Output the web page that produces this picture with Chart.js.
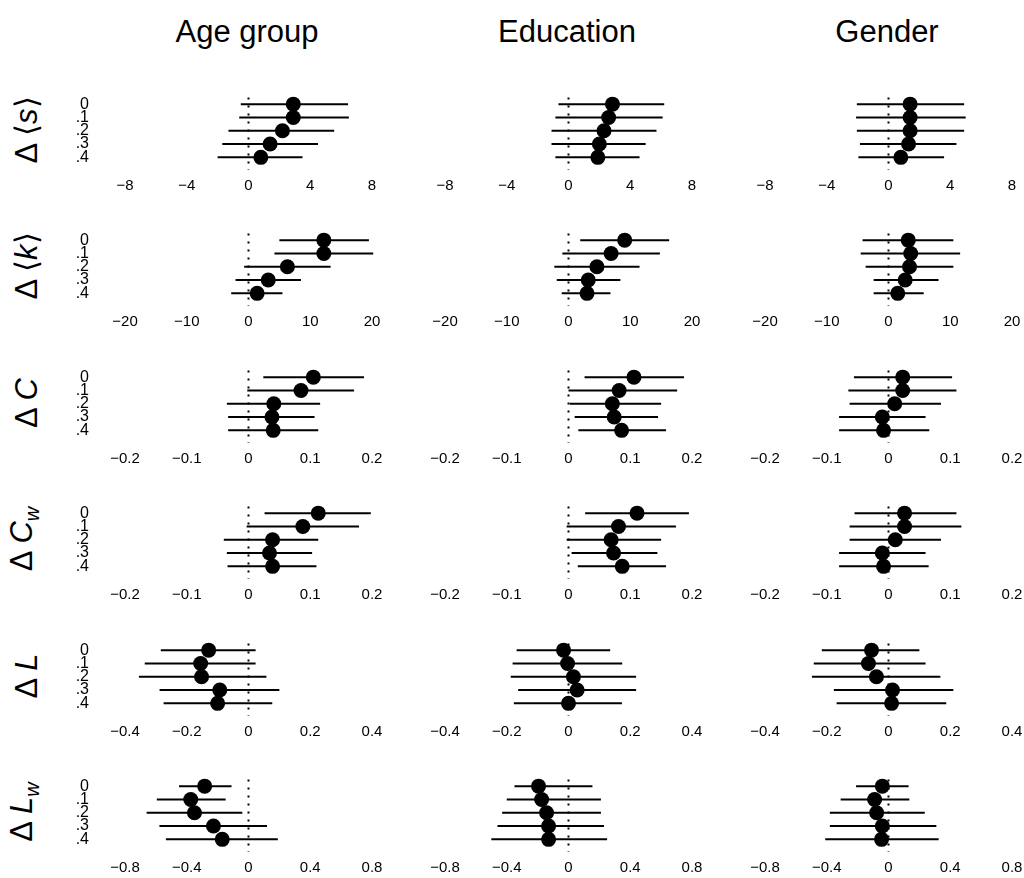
<!DOCTYPE html>
<html>
<head>
<meta charset="utf-8">
<script src="https://cdn.jsdelivr.net/npm/chart.js@4.4.1/dist/chart.umd.min.js"></script>
<style>
  body { margin: 0; background: #fff; width: 1024px; height: 878px; position: relative; overflow: hidden;
         font-family: "Liberation Sans", Arial, sans-serif; color: #000; }
  .col-title { position: absolute; top: 14px; width: 320px; text-align: center; font-size: 31px; line-height: 36px; }
  .row-title { position: absolute; left: 27px; font-size: 31px; line-height: 34px; white-space: nowrap;
               transform: translate(-50%, -50%) rotate(-90deg); }
  .row-title sub { font-size: 20px; font-style: italic; }
  .panel { position: absolute; }
</style>
</head>
<body>
<script>
  const lagLabels = ["0", ".1", ".2", ".3", ".4"];
  const groupNames = ["Age group", "Education", "Gender"];
  const rowNames = [
    "\u0394 \u27e8<i>s</i>\u27e9",
    "\u0394 \u27e8<i>k</i>\u27e9",
    "\u0394 <i>C</i>",
    "\u0394 <i>C</i><sub>w</sub>",
    "\u0394 <i>L</i>",
    "\u0394 <i>L</i><sub>w</sub>"
  ];

  // each row: [age group, education, gender], five lags per panel
  const sTicks = [-8, -4, 0, 4, 8];
  const sEst = [[2.9, 2.9, 2.2, 1.4, 0.8], [2.85, 2.6, 2.3, 2.0, 1.9], [1.4, 1.4, 1.4, 1.3, 0.8]];
  const sLo = [[-0.5, -0.6, -1.3, -1.7, -2.0], [-0.65, -0.85, -1.1, -1.1, -0.85], [-2.05, -2.1, -2.05, -1.85, -1.95]];
  const sHi = [[6.45, 6.5, 5.55, 4.5, 3.5], [6.2, 6.1, 5.7, 5.0, 4.6], [4.9, 5.0, 4.9, 4.4, 3.6]];

  const kTicks = [-20, -10, 0, 10, 20];
  const kEst = [[12.2, 12.2, 6.3, 3.2, 1.4], [9.1, 6.9, 4.6, 3.2, 3.0], [3.2, 3.6, 3.4, 2.7, 1.5]];
  const kLo = [[5.0, 4.2, -0.7, -2.1, -2.8], [1.9, -1.0, -2.3, -1.9, -1.1], [-4.2, -4.5, -3.7, -2.4, -2.4]];
  const kHi = [[19.5, 20.2, 13.3, 8.5, 5.5], [16.3, 14.8, 11.5, 8.4, 6.8], [10.5, 11.6, 10.5, 8.1, 5.7]];

  const cTicks = [-0.2, -0.1, 0, 0.1, 0.2];
  const cEst = [[0.105, 0.085, 0.041, 0.038, 0.04], [0.106, 0.082, 0.071, 0.074, 0.086], [0.023, 0.023, 0.01, -0.01, -0.008]];
  const cLo = [[0.024, -0.002, -0.035, -0.033, -0.033], [0.026, 0.0, 0.002, 0.01, 0.016], [-0.056, -0.065, -0.063, -0.08, -0.08]];
  const cHi = [[0.187, 0.171, 0.116, 0.107, 0.113], [0.187, 0.176, 0.15, 0.145, 0.158], [0.103, 0.11, 0.085, 0.06, 0.066]];

  const cwTicks = [-0.2, -0.1, 0, 0.1, 0.2];
  const cwEst = [[0.113, 0.088, 0.039, 0.034, 0.039], [0.111, 0.081, 0.069, 0.073, 0.087], [0.026, 0.026, 0.011, -0.01, -0.008]];
  const cwLo = [[0.026, -0.003, -0.04, -0.035, -0.034], [0.027, -0.003, -0.003, 0.005, 0.015], [-0.055, -0.063, -0.063, -0.08, -0.08]];
  const cwHi = [[0.198, 0.179, 0.113, 0.103, 0.11], [0.195, 0.174, 0.15, 0.144, 0.158], [0.11, 0.118, 0.085, 0.06, 0.065]];

  const lTicks = [-0.4, -0.2, 0, 0.2, 0.4];
  const lEst = [[-0.129, -0.155, -0.152, -0.093, -0.1], [-0.016, -0.003, 0.016, 0.028, 0.0], [-0.055, -0.065, -0.039, 0.013, 0.01]];
  const lLo = [[-0.284, -0.336, -0.355, -0.288, -0.275], [-0.168, -0.181, -0.187, -0.163, -0.177], [-0.216, -0.242, -0.248, -0.177, -0.168]];
  const lHi = [[0.023, 0.023, 0.058, 0.1, 0.077], [0.135, 0.174, 0.219, 0.219, 0.173], [0.1, 0.12, 0.168, 0.21, 0.187]];

  const lwTicks = [-0.8, -0.4, 0, 0.4, 0.8];
  const lwEst = [[-0.284, -0.374, -0.35, -0.227, -0.17], [-0.194, -0.174, -0.142, -0.129, -0.129], [-0.04, -0.09, -0.077, -0.04, -0.045]];
  const lwLo = [[-0.45, -0.594, -0.66, -0.577, -0.535], [-0.35, -0.4, -0.43, -0.46, -0.5], [-0.21, -0.31, -0.38, -0.38, -0.41]];
  const lwHi = [[-0.11, -0.148, -0.04, 0.12, 0.19], [0.155, 0.21, 0.21, 0.23, 0.25], [0.13, 0.135, 0.235, 0.31, 0.325]];

  const rows = [
    { ticks: sTicks, est: sEst, lo: sLo, hi: sHi },
    { ticks: kTicks, est: kEst, lo: kLo, hi: kHi },
    { ticks: cTicks, est: cEst, lo: cLo, hi: cHi },
    { ticks: cwTicks, est: cwEst, lo: cwLo, hi: cwHi },
    { ticks: lTicks, est: lEst, lo: lLo, hi: lHi },
    { ticks: lwTicks, est: lwEst, lo: lwLo, hi: lwHi }
  ];

  const FONT = "'Liberation Sans', Arial, sans-serif";
  const AREA_TOP0 = 95;
  const ROW_PITCH = 136.4;

  function fmt(v) {
    return String(Math.round(v * 1000) / 1000).replace("-", "\u2212");
  }

  groupNames.forEach((name, c) => {
    const d = document.createElement("div");
    d.className = "col-title";
    d.style.left = (c * 320 + 87) + "px";
    d.textContent = name;
    document.body.appendChild(d);
  });

  rowNames.forEach((html, r) => {
    const d = document.createElement("div");
    d.className = "row-title";
    d.style.top = (AREA_TOP0 + r * ROW_PITCH + 35) + "px";
    d.innerHTML = html;
    document.body.appendChild(d);
  });

  function makePanel(r, c) {
    const row = rows[r];
    const t = row.ticks;
    const canvas = document.createElement("canvas");
    canvas.className = "panel";
    canvas.width = 330;
    canvas.height = 110;
    canvas.style.width = "330px";
    canvas.style.height = "110px";
    canvas.style.left = (c * 320 + 60) + "px";
    canvas.style.top = (AREA_TOP0 + r * ROW_PITCH - 5) + "px";
    document.body.appendChild(canvas);

    const datasets = [];
    datasets.push({
      type: "scatter",
      data: row.est[c].map((v, i) => ({ x: v, y: i })),
      pointRadius: 7.5,
      pointHoverRadius: 7.5,
      backgroundColor: "#000",
      borderColor: "#000",
      borderWidth: 0,
      clip: false,
      order: 0
    });
    row.lo[c].forEach((lo, i) => {
      datasets.push({
        type: "line",
        data: [{ x: lo, y: i }, { x: row.hi[c][i], y: i }],
        borderColor: "#000",
        borderWidth: 2,
        pointRadius: 0,
        fill: false,
        clip: false,
        order: 1
      });
    });
    datasets.push({
      type: "line",
      data: [{ x: 0, y: -0.5 }, { x: 0, y: 4.95 }],
      borderColor: "#000",
      borderWidth: 2,
      borderDash: [2, 6],
      pointRadius: 0,
      fill: false,
      clip: false,
      order: 2
    });

    return new Chart(canvas, {
      type: "scatter",
      data: { datasets },
      options: {
        responsive: false,
        animation: false,
        events: [],
        layout: { padding: { top: 5, left: 0, right: 18, bottom: 0 } },
        plugins: { legend: { display: false }, tooltip: { enabled: false } },
        scales: {
          x: {
            type: "linear",
            min: t[0],
            max: t[t.length - 1],
            grid: { display: false, drawTicks: false },
            border: { display: false },
            afterBuildTicks: s => { s.ticks = t.map(v => ({ value: v })); },
            afterFit: s => { s.height = 30; },
            ticks: {
              autoSkip: false,
              maxRotation: 0,
              padding: 7,
              color: "#000",
              font: { family: FONT, size: 15 },
              callback: v => fmt(v)
            }
          },
          y: {
            type: "linear",
            reverse: true,
            min: -0.5,
            max: 4.95,
            grid: { display: false, drawTicks: false },
            border: { display: false },
            afterBuildTicks: s => { s.ticks = lagLabels.map((_, i) => ({ value: i })); },
            afterFit: s => { s.width = 65; s.paddingTop = 0; s.paddingBottom = 0; },
            ticks: {
              display: c === 0,
              autoSkip: false,
              padding: 36,
              color: "#000",
              font: { family: FONT, size: 16 },
              callback: v => lagLabels[v]
            }
          }
        }
      }
    });
  }

  for (let r = 0; r < rows.length; r++) {
    for (let c = 0; c < 3; c++) {
      makePanel(r, c);
    }
  }
</script>
</body>
</html>
